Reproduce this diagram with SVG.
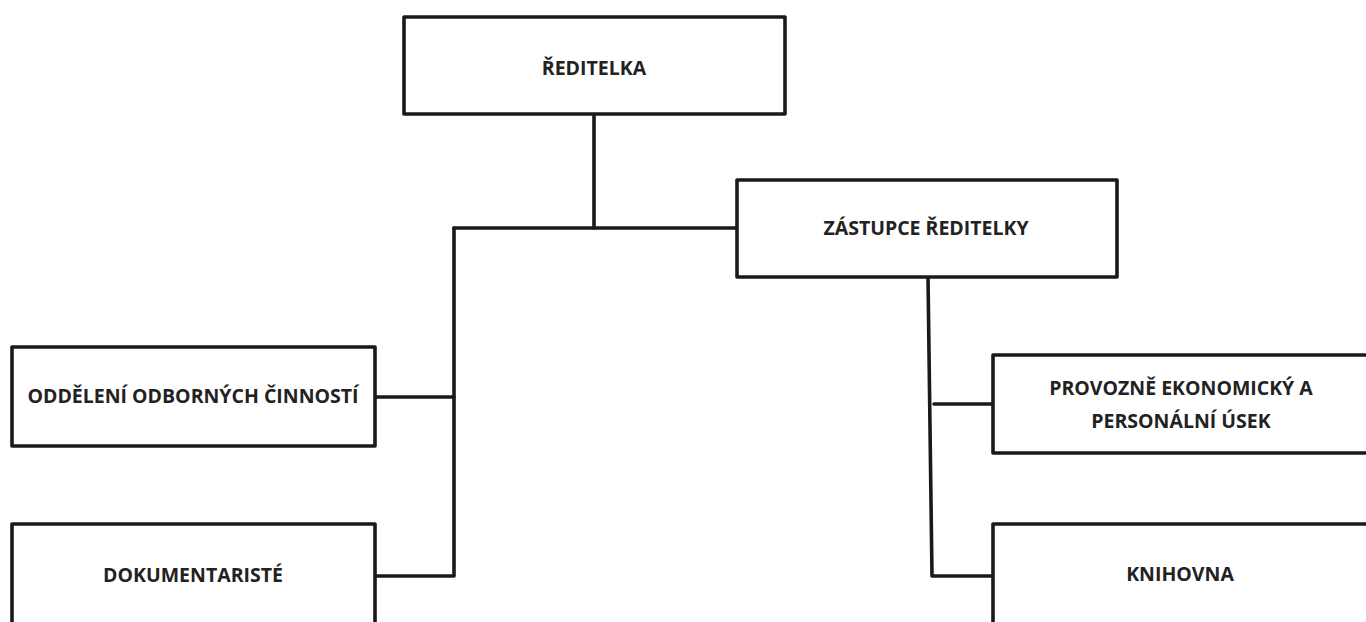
<svg xmlns="http://www.w3.org/2000/svg" width="1366" height="622" viewBox="0 0 1366 622">
<style>
.box{fill:#fff;stroke:#1a1a1a;stroke-width:3.6;stroke-linejoin:round}
.lbl{font-family:"Open Sans","Liberation Sans",sans-serif;font-weight:bold;font-size:19.5px;fill:#222;text-anchor:middle}
.con{fill:none;stroke:#1a1a1a;stroke-width:3.6;stroke-linejoin:round;stroke-linecap:round}
</style>
<rect width="1366" height="622" fill="#fff"/>
<g id="connectors">
<path class="con" d="M594 115 V228"/>
<path class="con" d="M454 228 H737"/>
<path class="con" d="M375 397 H454 V228"/>
<path class="con" d="M375 576 H454 V397"/>
<path class="con" d="M928 277 L932 576 H993"/>
<path class="con" d="M934 404 H993"/>
</g>
<g id="n-reditelka">
<rect class="box" x="404" y="17" width="381" height="97"/>
<text class="lbl" x="594" y="75">ŘEDITELKA</text>
</g>
<g id="n-zastupce">
<rect class="box" x="737" y="180" width="380" height="97"/>
<text class="lbl" x="926" y="235">ZÁSTUPCE ŘEDITELKY</text>
</g>
<g id="n-oddeleni">
<rect class="box" x="12" y="347" width="363" height="99"/>
<text class="lbl" x="193" y="403">ODDĚLENÍ ODBORNÝCH ČINNOSTÍ</text>
</g>
<g id="n-dokumentariste">
<rect class="box" x="12" y="524" width="363" height="110"/>
<text class="lbl" x="193" y="582">DOKUMENTARISTÉ</text>
</g>
<g id="n-provozne">
<rect class="box" x="993" y="355" width="390" height="98"/>
<text class="lbl" x="1181" y="395">PROVOZNĚ EKONOMICKÝ A</text>
<text class="lbl" x="1181" y="428">PERSONÁLNÍ ÚSEK</text>
</g>
<g id="n-knihovna">
<rect class="box" x="993" y="524" width="390" height="110"/>
<text class="lbl" x="1180" y="581">KNIHOVNA</text>
</g>
</svg>
